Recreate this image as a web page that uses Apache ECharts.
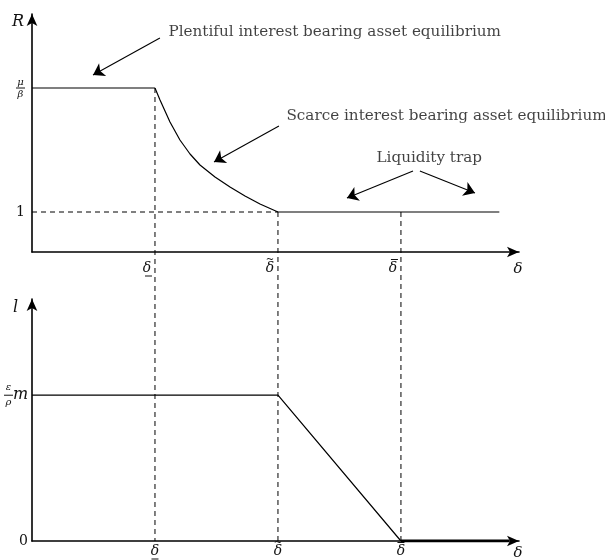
<!DOCTYPE html>
<html><head><meta charset="utf-8">
<script src="https://cdn.jsdelivr.net/npm/echarts@6/dist/echarts.min.js"></script>
<style>html,body{margin:0;padding:0;background:#fff}#c{width:605px;height:560px}</style>
</head><body><div id="c"></div>
<script>
// ---------- data ----------
const deltaTicks = [1, 2, 3];
const deltaMarks = ['under', 'tilde', 'bar'];   // accents of the three delta tick labels
const rTicks = [1, 4.1];            // 1 and mu/beta
const rPlentifulX = [0, 1];
const rPlentifulY = [4.1, 4.1];
const rScarceX = [1, 1.041, 1.122, 1.203, 1.285, 1.366, 1.488, 1.61, 1.732, 1.854, 2];
const rScarceY = [4.1, 3.8, 3.25, 2.8, 2.45, 2.175, 1.875, 1.625, 1.4, 1.2, 1.0];
const rTrapX = [2, 3.8];
const rTrapY = [1, 1];
const lTicks = [0, 1];              // 0 and (eps/rho) m
const lX = [0, 2, 3];
const lY = [1, 1, 0];
const lTrapX = [3, 3.88];
const lTrapY = [0, 0];
const noteTexts = ['Plentiful interest bearing asset equilibrium', 'Scarce interest bearing asset equilibrium', 'Liquidity trap'];
const noteX = [1.106, 2.065, 2.797];
const noteY = [5.5, 3.4, 2.35];
const arrowFromX = [1.04, 2.008, 3.098, 3.154];
const arrowFromY = [5.35, 3.15, 2.025, 2.025];
const arrowToX = [0.496, 1.48, 2.561, 3.602];
const arrowToY = [4.425, 2.25, 1.35, 1.475];

// ---------- layout ----------
const LEFT = 32, AXW = 487;
const T_TOP = 14, T_BOT = 252, B_TOP = 299, B_BOT = 541;
const X_MAX = 3.96, T_MAX = 5.95, B_MAX = 1.66;
const FONT = 'DejaVu Serif';
const ink = '#000';
const txt = '#111';

const zip = (xs, ys) => xs.map((x, i) => [x, ys[i]]);
const rAll = zip([...rPlentifulX, ...rScarceX, ...rTrapX], [...rPlentifulY, ...rScarceY, ...rTrapY]);
const rAt = x => { const p = rAll.find(q => q[0] === x); return p ? p[1] : 1; };
// value in top grid corresponding to the bottom axis pixel
const tAtBottomAxis = -(B_BOT - T_BOT) / (T_BOT - T_TOP) * T_MAX;

const dashData = [];
deltaTicks.forEach((d, i) => { if (i) dashData.push('-'); dashData.push([d, rAt(d)], [d, tAtBottomAxis]); });

const axisLineStyle = { show: true, symbol: ['none', 'arrow'], symbolSize: [8, 12], lineStyle: { color: ink, width: 1.6 } };
const fracRich = {
  f: { fontFamily: FONT, fontStyle: 'italic', fontSize: 10, width: 9, align: 'center', lineHeight: 9, color: txt },
  bar: { width: 9, height: 1, lineHeight: 3, backgroundColor: txt },
  sp: { width: 15 },
  m: { fontFamily: FONT, fontStyle: 'italic', fontSize: 16, width: 15, align: 'left', lineHeight: 3, color: txt },
  n: { fontFamily: FONT, fontSize: 14, color: txt }
};
const deltaRich = {
  d: { fontFamily: FONT, fontStyle: 'italic', fontSize: 14, lineHeight: 14, width: 10, align: 'center', color: txt },
  ob: { width: 7, height: 1, lineHeight: 3, backgroundColor: txt },
  ob0: { width: 7, height: 1, lineHeight: 3 },
  ub: { width: 7, height: 1, lineHeight: 2, backgroundColor: txt },
  t: { fontFamily: FONT, fontSize: 10, lineHeight: 3, width: 10, align: 'center', color: txt }
};
const deltaLabel = v => {
  const m = deltaMarks[deltaTicks.indexOf(v)];
  if (m === 'under') return '{ob0|}\n{d|δ}\n{ub|}';
  if (m === 'tilde') return '{t|~}\n{d|δ}';
  return '{ob|}\n{d|δ}';
};

const chart = echarts.init(document.getElementById('c'));
chart.setOption({
  animation: false,
  grid: [
    { left: LEFT, width: AXW, top: T_TOP, height: T_BOT - T_TOP, outerBoundsMode: 'none', containLabel: false },
    { left: LEFT, width: AXW, top: B_TOP, height: B_BOT - B_TOP, outerBoundsMode: 'none', containLabel: false }
  ],
  xAxis: [0, 1].map(g => ({
    type: 'value', gridIndex: g, min: 0, max: X_MAX,
    splitLine: { show: false }, axisTick: { show: false },
    axisLine: axisLineStyle,
    name: 'δ', nameLocation: 'end', nameGap: -1,
    nameTextStyle: { fontFamily: FONT, fontStyle: 'italic', fontSize: 15, color: txt, align: 'center', verticalAlign: 'top', padding: [g === 0 ? 10 : 5, 0, 0, 0] },
    axisLabel: {
      customValues: deltaTicks, margin: g === 0 ? 6 : 0,
      rich: deltaRich, verticalAlign: 'top',
      align: g === 0 ? 'right' : 'center', padding: g === 0 ? [0, 3, 0, 0] : 0,
      formatter: deltaLabel
    }
  })),
  yAxis: [
    {
      type: 'value', gridIndex: 0, min: 0, max: T_MAX,
      splitLine: { show: false }, axisTick: { show: false }, axisLine: axisLineStyle,
      name: 'R', nameLocation: 'end', nameGap: -8,
      nameTextStyle: { fontFamily: FONT, fontStyle: 'italic', fontSize: 16, color: txt, align: 'right', verticalAlign: 'middle', padding: [0, 8, 0, 0] },
      axisLabel: {
        customValues: rTicks, margin: 7, rich: fracRich,
        formatter: v => v === 1 ? '{n|1}' : '{f|μ}\n{bar|}\n{f|β}'
      }
    },
    {
      type: 'value', gridIndex: 1, min: 0, max: B_MAX,
      splitLine: { show: false }, axisTick: { show: false }, axisLine: axisLineStyle,
      name: 'l', nameLocation: 'end', nameGap: -9,
      nameTextStyle: { fontFamily: FONT, fontStyle: 'italic', fontSize: 16, color: txt, align: 'right', verticalAlign: 'middle', padding: [0, 14, 0, 0] },
      axisLabel: {
        customValues: lTicks, margin: 4, rich: fracRich,
        formatter: v => v === 0 ? '{n|0}' : '{f|ε}{sp|}\n{bar|}{m|m}\n{f|ρ}{sp|}'
      }
    }
  ],
  series: [
    { type: 'line', xAxisIndex: 0, yAxisIndex: 0, data: zip(rPlentifulX, rPlentifulY), symbol: 'none', lineStyle: { color: ink, width: 1.2 }, z: 5 },
    { type: 'line', xAxisIndex: 0, yAxisIndex: 0, data: zip(rScarceX, rScarceY), symbol: 'none', smooth: false, lineStyle: { color: ink, width: 1.2, join: 'round' }, z: 5 },
    { type: 'line', xAxisIndex: 0, yAxisIndex: 0, data: zip(rTrapX, rTrapY), symbol: 'none', lineStyle: { color: ink, width: 1.2 }, z: 5 },
    { type: 'line', xAxisIndex: 0, yAxisIndex: 0, data: [[0, 1], [2, 1]], symbol: 'none', lineStyle: { color: ink, width: 1, type: [5, 4] }, z: 4 },
    { type: 'line', xAxisIndex: 0, yAxisIndex: 0, data: dashData, clip: false, symbol: 'none', lineStyle: { color: ink, width: 1, type: [5, 4] }, z: 4 },
    { type: 'line', xAxisIndex: 1, yAxisIndex: 1, data: zip(lX, lY), symbol: 'none', lineStyle: { color: ink, width: 1.2 }, z: 5 },
    { type: 'line', xAxisIndex: 1, yAxisIndex: 1, data: zip(lTrapX, lTrapY), symbol: 'none', lineStyle: { color: ink, width: 3 }, z: 6 },
    {
      type: 'lines', coordinateSystem: 'cartesian2d', xAxisIndex: 0, yAxisIndex: 0,
      symbol: ['none', 'arrow'], symbolSize: [7, 11],
      lineStyle: { color: ink, width: 1.1, opacity: 1 },
      data: arrowFromX.map((x, i) => ({ coords: [[x, arrowFromY[i]], [arrowToX[i], arrowToY[i]]] })), z: 7
    },
    {
      type: 'scatter', xAxisIndex: 0, yAxisIndex: 0, symbolSize: 1, itemStyle: { color: 'rgba(0,0,0,0)' },
      data: noteTexts.map((t, i) => ({ value: [noteX[i], noteY[i]], name: t })),
      label: { show: true, position: 'right', distance: 0, formatter: p => p.name, fontFamily: FONT, fontSize: 15.2, color: txt }
    }
  ]
});
</script></body></html>
